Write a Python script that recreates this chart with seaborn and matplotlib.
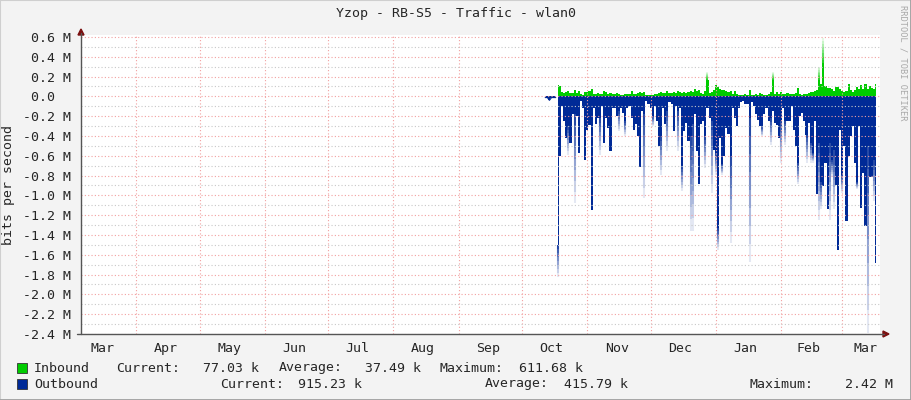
import numpy as np
import pandas as pd
import matplotlib
matplotlib.use("Agg")
import matplotlib.pyplot as plt
import matplotlib.dates as mdates
from matplotlib.ticker import MultipleLocator, FixedLocator, FixedFormatter, FuncFormatter, NullFormatter
from matplotlib.patches import Polygon, Rectangle
from matplotlib.lines import Line2D
import seaborn as sns

# ---- data (Mbit/s, one value per day) ----
title = "Yzop - RB-S5 - Traffic - wlan0"
first_day = "2011-10-18"
pre_start = "2011-10-12"
pre_out = [-0.012, -0.012, -0.04, -0.012, -0.012, -0.012]

inbound = [
    0.12, 0.10, 0.04, 0.03, 0.04, 0.05, 0.03, 0.03, 0.06, 0.03,
    0.05, 0.02, 0.01, 0.04, 0.04, 0.05, 0.07, 0.02, 0.02, 0.03,
    0.02, 0.02, 0.05, 0.04, 0.02, 0.03, 0.02, 0.02, 0.03, 0.02,
    0.01, 0.01, 0.02, 0.02, 0.02, 0.05, 0.02, 0.02, 0.03, 0.04,
    0.03, 0.04, 0.01, 0.01, 0.01, 0.01, 0.02, 0.02, 0.03, 0.04,
    0.03, 0.03, 0.05, 0.03, 0.03, 0.04, 0.03, 0.05, 0.04, 0.03,
    0.04, 0.03, 0.04, 0.05, 0.04, 0.07, 0.05, 0.06, 0.03, 0.02,
    0.05, 0.17, 0.03, 0.04, 0.06, 0.12, 0.09, 0.07, 0.06, 0.06,
    0.05, 0.04, 0.05, 0.02, 0.05, 0.02, 0.01, 0.01, 0.01, 0.02,
    0.01, 0.06, 0.01, 0.01, 0.02, 0.01, 0.03, 0.02, 0.01, 0.01,
    0.02, 0.04, 0.17, 0.02, 0.04, 0.02, 0.04, 0.02, 0.02, 0.03,
    0.02, 0.02, 0.02, 0.03, 0.08, 0.02, 0.01, 0.02, 0.02, 0.03,
    0.04, 0.04, 0.05, 0.06, 0.17, 0.13, 0.34, 0.10, 0.08, 0.08,
    0.07, 0.05, 0.09, 0.09, 0.07, 0.05, 0.04, 0.05, 0.13, 0.06,
    0.04, 0.06, 0.09, 0.07, 0.11, 0.07, 0.13, 0.07, 0.10, 0.08,
    0.07, 0.13,
]
outbound = [
    -1.50, -0.60, -0.10, -0.25, -0.42, -0.30, -0.47, -0.18, -0.18, -0.20,
    -0.57, -0.05, -0.12, -0.64, -0.34, -0.29, -1.15, -0.12, -0.28, -0.22,
    -0.22, -0.10, -0.47, -0.22, -0.32, -0.55, -0.12, -0.12, -0.20, -0.15,
    -0.12, -0.17, -0.25, -0.12, -0.10, -0.22, -0.34, -0.28, -0.40, -0.71,
    -0.15, -0.18, -0.05, -0.08, -0.12, -0.20, -0.10, -0.25, -0.50, -0.40,
    -0.12, -0.28, -0.15, -0.06, -0.08, -0.35, -0.10, -0.15, -0.12, -0.70,
    -0.35, -0.27, -0.45, -0.40, -0.28, -0.18, -0.55, -0.89, -0.28, -0.25,
    -0.40, -0.12, -0.22, -0.25, -0.54, -0.57, -1.33, -0.42, -0.68, -0.60,
    -0.32, -0.38, -0.60, -0.12, -0.22, -0.30, -0.12, -0.06, -0.05, -0.08,
    -0.08, -0.22, -0.06, -0.10, -0.18, -0.24, -0.30, -0.30, -0.18, -0.12,
    -0.25, -0.22, -0.15, -0.27, -0.29, -0.42, -0.25, -0.12, -0.25, -0.25,
    -0.25, -0.10, -0.34, -0.50, -0.67, -0.20, -0.17, -0.25, -0.39, -0.27,
    -0.47, -0.57, -0.25, -0.99, -0.47, -0.86, -0.91, -0.67, -1.14, -0.47,
    -0.64, -0.54, -0.90, -1.55, -0.34, -0.79, -0.50, -1.26, -0.60, -0.40,
    -0.30, -0.67, -0.86, -0.30, -1.13, -0.77, -1.31, -0.50, -0.81, -0.81,
    -0.64, -1.68,
]
# faded spike tips (day index, peak value)
out_tip_day = [0, 5, 8, 20, 29, 32, 41, 45, 49, 52, 57, 59, 63, 64, 70, 73, 75, 76, 78,
               82, 91, 97, 101, 106, 108, 114, 118, 120, 121, 124, 125, 129, 130, 131,
               135, 142, 147, 150]
out_tip_val = [-1.82, -0.59, -1.08, -0.59, -0.35, -0.40, -1.03, -0.30, -0.79, -0.55,
               -0.55, -0.96, -1.36, -1.36, -0.72, -0.98, -0.79, -1.55, -0.79, -1.48,
               -1.67, -0.40, -0.49, -0.67, -0.49, -0.89, -0.67, -0.67, -0.67, -1.25,
               -1.14, -1.25, -0.81, -1.14, -0.98, -0.94, -2.39, -1.06]
in_tip_day = [71, 102, 124, 126]
in_tip_val = [0.25, 0.25, 0.30, 0.59]

month_labels = ["Mar", "Apr", "May", "Jun", "Jul", "Aug", "Sep", "Oct", "Nov", "Dec", "Jan", "Feb", "Mar"]
label_dates = ["2011-03-16", "2011-04-15", "2011-05-15", "2011-06-15", "2011-07-15", "2011-08-15",
               "2011-09-15", "2011-10-15", "2011-11-15", "2011-12-15", "2012-01-15", "2012-02-14",
               "2012-03-12"]
x_start, x_end = "2011-03-05 17:00", "2012-03-18 21:00"

in_stats = [("Current:", "77.03 k"), ("Average:", "37.49 k"), ("Maximum:", "611.68 k")]
out_stats = [("Current:", "915.23 k"), ("Average:", "415.79 k"), ("Maximum:", "2.42 M")]

# ---- style ----
sns.set_style("white")
plt.rcParams['font.family'] = ['DejaVu Sans Mono']
FS = 9.5
W, H = 911, 400
GREEN, BLUE = "#00cc00", "#002a97"
RED_GRID, GRAY_GRID = "#f2a0a0", "#c8c8c8"
AXIS_C, ARROW_C = "#555555", "#7a1010"


def px(x, y):
    return (x / W, 1 - y / H)


dates = pd.date_range(first_day, periods=len(inbound), freq="D")
pre_dates = pd.date_range(pre_start, periods=len(pre_out), freq="D")
df = pd.DataFrame({"date": dates, "inbound": inbound, "outbound": outbound})

fig = plt.figure(figsize=(W / 100, H / 100), dpi=100)
fig.patch.set_facecolor("#f3f3f3")
ax = fig.add_axes([81 / W, 66 / H, 799 / W, 299 / H])
ax.set_facecolor("white")

# areas
ax.fill_between(pre_dates, 0, pre_out, step="mid", color=BLUE, lw=0, zorder=2)
ax.fill_between(df["date"], 0, df["inbound"], step="mid", color=GREEN, lw=0, zorder=2)
ax.fill_between(df["date"], 0, df["outbound"], step="mid", color=BLUE, lw=0, zorder=2)
sns.lineplot(x=pre_dates, y=pre_out, ax=ax, color=BLUE, lw=0.8, zorder=2)
ax.set_xlabel("")
ax.set_ylabel("")


def faded(day_idx, tip_vals, base, color):
    for d, tip in zip(day_idx, tip_vals):
        edges = np.linspace(base[d], tip, 9)
        for k in range(8):
            ax.plot([dates[d], dates[d]], [edges[k], edges[k + 1]], color=color,
                    alpha=0.85 * (1 - k / 8), lw=1.5, solid_capstyle="butt", zorder=2)


faded(out_tip_day, out_tip_val, outbound, BLUE)
faded(in_tip_day, in_tip_val, inbound, GREEN)

# axes limits and grid
ax.set_xlim(pd.Timestamp(x_start), pd.Timestamp(x_end))
ax.set_ylim(-2.4, 0.62)
ax.yaxis.set_major_locator(MultipleLocator(0.2))
ax.yaxis.set_minor_locator(MultipleLocator(0.1))
ax.yaxis.set_major_formatter(FuncFormatter(lambda v, p: "0.0  " if abs(v) < 1e-9 else f"{v:.1f} M"))
ax.xaxis.set_major_locator(mdates.MonthLocator())
ax.xaxis.set_major_formatter(NullFormatter())
ax.xaxis.set_minor_locator(FixedLocator(mdates.date2num(pd.to_datetime(label_dates))))
ax.xaxis.set_minor_formatter(FixedFormatter(month_labels))

dots = (0, (1, 2))
ax.yaxis.grid(True, which="minor", color=GRAY_GRID, ls=dots, lw=0.8, zorder=3)
ax.yaxis.grid(True, which="major", color=RED_GRID, ls=dots, lw=0.8, zorder=3)
ax.xaxis.grid(True, which="major", color=RED_GRID, ls=dots, lw=0.8, zorder=3)
ax.set_axisbelow(False)

ax.tick_params(axis="y", which="major", length=2, color=RED_GRID, pad=5, labelsize=FS)
ax.tick_params(axis="y", which="minor", length=2, color=GRAY_GRID)
ax.tick_params(axis="x", which="major", length=2, color=RED_GRID)
ax.tick_params(axis="x", which="minor", length=0, pad=6, labelsize=FS)
for s in ax.spines.values():
    s.set_visible(False)

# axis lines with arrows
fig.add_artist(Line2D([px(81, 334)[0], px(81, 33)[0]], [px(81, 334)[1], px(81, 33)[1]],
                      color=AXIS_C, lw=1))
fig.add_artist(Line2D([px(77, 334)[0], px(884, 334)[0]], [px(77, 334)[1], px(884, 334)[1]],
                      color=AXIS_C, lw=1))
fig.add_artist(Polygon([px(78, 35), px(84, 35), px(81, 29)], closed=True, color=ARROW_C))
fig.add_artist(Polygon([px(883, 331), px(883, 337), px(889, 334)], closed=True, color=ARROW_C))

# texts
fig.text(*px(455.5, 14), title, ha="center", va="center", fontsize=FS)
fig.text(*px(9, 185), "bits per second", ha="center", va="center", rotation=90, fontsize=FS)
fig.text(*px(903, 5), "RRDTOOL / TOBI OETIKER", ha="center", va="top", rotation=270,
         fontsize=6.2, color="#a8a8a8")

# legend
rows = [(368, GREEN, "Inbound", in_stats, [116, 279, 440], [259, 421, 583]),
        (384, BLUE, "Outbound", out_stats, [220, 485, 750], [362, 628, 893])]
for y, col, name, stats, lab_x, val_right in rows:
    fig.add_artist(Rectangle(px(17, y + 5), 10 / W, 10 / H, facecolor=col,
                             edgecolor="#333333", lw=0.6))
    fig.text(*px(34, y), name, ha="left", va="center", fontsize=FS)
    for (lab, val), lx, vr in zip(stats, lab_x, val_right):
        fig.text(*px(lx, y), lab, ha="left", va="center", fontsize=FS)
        fig.text(*px(vr, y), val, ha="right", va="center", fontsize=FS)

# frame
fig.add_artist(Line2D([0, 0, 1], [0, 1, 1], color="#cfcfcf", lw=1.5))
fig.add_artist(Line2D([0, 1, 1], [0, 0, 1], color="#9e9e9e", lw=2))

fig.savefig("out.png", dpi=100, facecolor=fig.get_facecolor())
